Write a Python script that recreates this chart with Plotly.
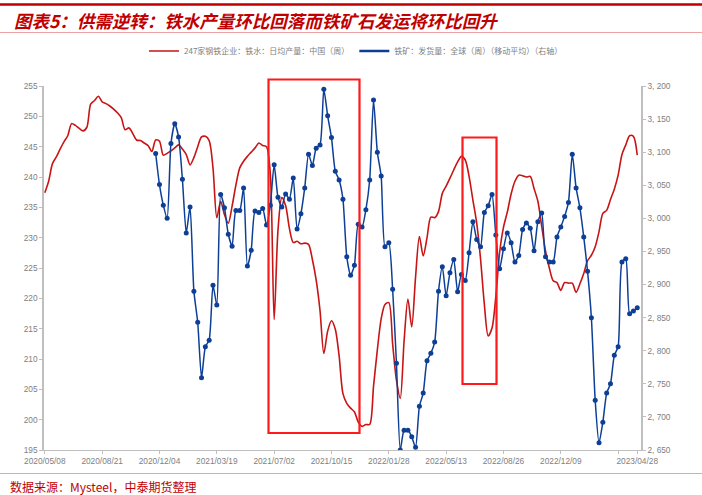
import pandas as pd
import plotly.graph_objects as go

# Weekly observation dates
start_date = "2020-05-08"
n_weeks = 156
dates = pd.date_range(start_date, periods=n_weeks, freq="7D")

# 247 steel mills: hot metal daily output, China (weekly), 10k t/day
hot_metal = [
    237.4, 239.3, 242.2, 243.3, 244.6, 245.8, 246.8, 248.8, 248.5, 248.0,
    247.6, 248.2, 252.0, 252.6, 253.3, 252.4, 252.1, 251.7, 251.2, 250.6,
    249.8, 247.8, 248.1, 247.2, 246.1, 246.0, 245.6, 245.2, 244.2, 246.1,
    245.9, 243.6, 243.9, 244.3, 244.8, 245.3, 244.6, 243.7, 242.0, 243.2,
    245.0, 246.6, 246.7, 246.0, 241.5, 233.3, 236.0, 233.8, 232.4, 235.2,
    238.7, 241.5, 242.6, 243.4, 244.1, 244.8, 245.6, 245.2, 245.0, 240.5,
    216.5, 231.2, 236.6, 235.3, 231.5, 229.2, 229.4, 229.0, 229.1, 228.9,
    226.4, 223.0, 218.0, 210.9, 214.6, 216.3, 214.9, 210.5, 204.3, 202.7,
    201.9, 201.3, 199.6, 198.9, 199.2, 199.2, 205.5, 211.5, 216.6, 219.0,
    219.3, 212.5, 206.5, 203.5, 213.0, 219.9, 215.3, 223.5, 230.2, 227.0,
    230.0, 233.4, 233.3, 234.3, 237.3, 238.5, 239.8, 241.2, 242.5, 243.4,
    242.8, 240.1, 236.2, 232.4, 226.5, 219.0, 213.8, 215.1, 220.3, 227.6,
    231.7, 234.2, 237.2, 239.3, 240.3, 240.2, 240.0, 240.1, 238.1, 236.0,
    231.9, 227.8, 225.0, 222.9, 222.6, 221.3, 222.6, 222.5, 222.5, 221.0,
    222.4, 224.1, 226.2, 227.1, 228.5, 231.0, 234.0, 234.5, 236.3, 238.0,
    240.3, 243.7, 245.3, 246.8, 246.7, 243.6,
]

# Global iron ore shipments (weekly, moving average), 10k t — starts at week 29
ore_first_week = 29
ore_shipments = [
    3098, 3051, 3020, 3000, 3113, 3143, 3123, 3059, 2978, 3017, 2890, 2843, 2759,
    2806, 2816, 2899, 2869, 3036, 3016, 2976, 2958, 3012, 3012,
    3046, 2928, 2952, 3011, 3009, 3015, 2990, 3020, 3081, 3032,
    3017, 3037, 3029, 3061, 2984, 3007, 3046, 3097, 3080, 3106,
    3111, 3195, 3155, 3122, 3071, 3058, 3029, 2942, 2914, 2929,
    2991, 2987,
    3013, 3058, 3179, 3100, 3064, 2957, 2963, 2893, 2781, 2650,
    2680, 2680, 2670, 2654, 2716, 2736, 2785, 2796, 2813, 2890,
    2927, 2883, 2918, 2938, 2889, 2915, 2906, 2948, 2995, 2968,
    2957, 3009, 3019, 3036, 2975, 2924, 2954, 2978,
    2963, 2934, 2944, 2983, 2993, 2985, 2951, 2995, 3008, 2942,
    2934, 2934, 2972, 2987, 3003, 3024, 3097, 3046, 3016, 2972,
    2920, 2850, 2725, 2661, 2692, 2736, 2750, 2793, 2806, 2934,
    2939, 2856, 2860, 2865,
]
ore_dates = dates[ore_first_week:ore_first_week + len(ore_shipments)]

# Axis ticks
x_tickvals = ["2020-05-08", "2020-08-21", "2020-12-04", "2021-03-19", "2021-07-02",
              "2021-10-15", "2022-01-28", "2022-05-13", "2022-08-26", "2022-12-09",
              "2023-03-24", "2023-04-28"]
x_ticktext = ["2020/05/08", "2020/08/21", "2020/12/04", "2021/03/19", "2021/07/02",
              "2021/10/15", "2022/01/28", "2022/05/13", "2022/08/26", "2022/12/09",
              "", "2023/04/28"]
left_ticks = [195, 200, 205, 210, 215, 220, 225, 230, 235, 240, 245, 250, 255]
right_ticks = [2650, 2700, 2750, 2800, 2850, 2900, 2950, 3000, 3050, 3100, 3150, 3200]
right_ticktext = ["2, 650", "2, 700", "2, 750", "2, 800", "2, 850", "2, 900",
                  "2, 950", "3, 000", "3, 050", "3, 100", "3, 150", "3, 200"]

name_hot_metal = "247家钢铁企业：铁水：日均产量：中国（周）"
name_ore = "铁矿：发货量：全球（周）（移动平均）（右轴）"
title_text = "图表5：供需逆转：铁水产量环比回落而铁矿石发运将环比回升"
source_text = "数据来源：Mysteel，中泰期货整理"

RED = "#C81414"
BLUE = "#0E3F96"
AXIS_GREY = "#BFBFBF"
TEXT_GREY = "#808080"

fig = go.Figure()
fig.add_trace(go.Scatter(
    x=dates, y=hot_metal, name=name_hot_metal, mode="lines",
    line=dict(color=RED, width=1.6, shape="spline", smoothing=0.8),
))
fig.add_trace(go.Scatter(
    x=ore_dates, y=ore_shipments, name=name_ore, mode="lines+markers", yaxis="y2",
    line=dict(color=BLUE, width=1.5, shape="spline", smoothing=0.6),
    marker=dict(color=BLUE, size=5), showlegend=False,
))
# legend entry for the shipment series drawn as a plain line
fig.add_trace(go.Scatter(
    x=[None], y=[None], name=name_ore, mode="lines", yaxis="y2",
    line=dict(color=BLUE, width=2.5),
))

L, R, T, B = 44, 61, 86, 45
W, H = 702, 495
pw, ph = W - L - R, H - T - B


def px_x(px):
    return (px - L) / pw


def px_y(py):
    return (H - B - py) / ph


shapes = [
    dict(type="line", xref="paper", yref="paper", x0=px_x(0), x1=px_x(W),
         y0=px_y(4.5), y1=px_y(4.5), line=dict(color="#C00000", width=2.5)),
    dict(type="line", xref="paper", yref="paper", x0=px_x(0), x1=px_x(W),
         y0=px_y(32.5), y1=px_y(32.5), line=dict(color="#EBA3A3", width=1)),
    dict(type="line", xref="paper", yref="paper", x0=px_x(0), x1=px_x(W),
         y0=px_y(473.5), y1=px_y(473.5), line=dict(color="#EBA3A3", width=1)),
    # highlighted periods
    dict(type="rect", xref="paper", yref="paper", x0=px_x(268.5), x1=px_x(359.5),
         y0=px_y(433), y1=px_y(79.5), line=dict(color="#FF1A1A", width=2.2)),
    dict(type="rect", xref="paper", yref="paper", x0=px_x(462.5), x1=px_x(496.5),
         y0=px_y(384), y1=px_y(137.5), line=dict(color="#FF1A1A", width=2.2)),
]

annotations = [
    dict(text="<b>" + title_text + "</b>", xref="paper", yref="paper",
         x=px_x(12), y=px_y(20.7), xanchor="left", yanchor="middle", showarrow=False,
         font=dict(family="Noto Sans CJK SC", size=17.5, color="#C00000",
                   style="italic")),
    dict(text=source_text, xref="paper", yref="paper",
         x=px_x(8), y=px_y(486.5), xanchor="left", yanchor="middle", showarrow=False,
         font=dict(family="Noto Sans CJK SC", size=12, color="#C00000")),
]

tick_font = dict(family="Liberation Sans", size=8.3, color=TEXT_GREY)

fig.update_layout(
    width=W, height=H,
    margin=dict(l=L, r=R, t=T, b=B),
    paper_bgcolor="white", plot_bgcolor="white",
    shapes=shapes, annotations=annotations,
    legend=dict(orientation="h", x=px_x(144), y=px_y(51), xanchor="left", yanchor="middle",
                font=dict(family="Noto Sans CJK SC", size=8, color=TEXT_GREY),
                bgcolor="rgba(0,0,0,0)", itemwidth=30, traceorder="normal"),
    xaxis=dict(type="date", range=["2020-05-06 12:00", "2023-05-04 21:00"],
               tickmode="array", tickvals=x_tickvals, ticktext=x_ticktext,
               ticks="outside", ticklen=3, tickcolor=AXIS_GREY, showline=True,
               linecolor=AXIS_GREY, linewidth=1, showgrid=False, zeroline=False,
               tickfont=tick_font),
    yaxis=dict(range=[195, 255], tickmode="array", tickvals=left_ticks,
               ticks="outside", ticklen=3, tickcolor=AXIS_GREY, showline=True,
               linecolor=AXIS_GREY, linewidth=1.5, showgrid=False, zeroline=False,
               tickfont=tick_font),
    yaxis2=dict(range=[2650, 3200], overlaying="y", side="right", tickmode="array",
                tickvals=right_ticks, ticktext=right_ticktext,
                ticks="outside", ticklen=3, tickcolor=AXIS_GREY, showline=True,
                linecolor=AXIS_GREY, linewidth=1.5, showgrid=False, zeroline=False,
                tickfont=tick_font),
)

fig.write_html("out.html")
